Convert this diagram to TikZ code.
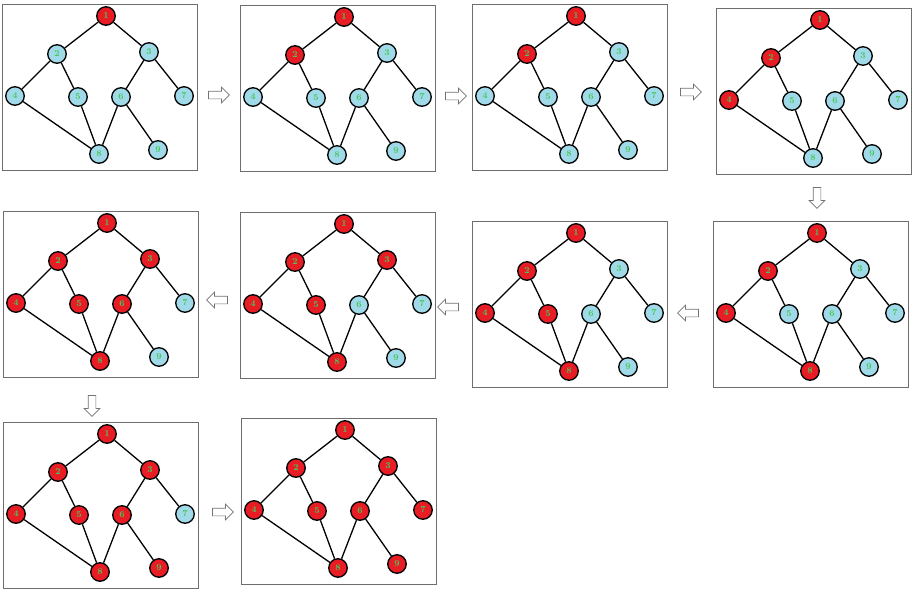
\documentclass[tikz,border=0pt]{standalone}
\usepackage{tikz}
\usetikzlibrary{shapes.arrows}
\definecolor{visited}{RGB}{232,28,36}
\definecolor{unvisited}{RGB}{160,218,232}
\definecolor{digit}{RGB}{70,200,90}
\definecolor{framegray}{RGB}{110,110,110}

\begin{document}
\begin{tikzpicture}[
    x=1pt, y=-1pt,                       % pixel grid, y downwards
    vertex/.style={
        circle,
        draw=black,
        line width=1.3pt,
        minimum size=18.5pt,
        inner sep=0pt,
        font=\fontsize{9}{9}\selectfont\bfseries,
        text=digit
    },
    seen/.style={vertex, fill=visited},
    unseen/.style={vertex, fill=unvisited},
    edge/.style={line width=1.3pt},
    panel/.style={
        draw=framegray,
        line width=1pt,
        minimum width=195pt,
        minimum height=166pt,
        inner sep=0pt,
        anchor=north west
    },
    nextarrow/.style={
        single arrow,
        draw=gray!90!black,
        fill=white,
        line width=0.7pt,
        minimum height=21pt,
        inner sep=3.5pt,                 % half the shaft
        single arrow head extend=4pt
    }
]
\useasboundingbox (0,0) rectangle (916,592);

% one panel per step: top left corner / number of visited vertices
\foreach \px/\py/\done [count=\k] in {
    2/4/1, 240/5/2, 472/4/2, 716/8/3, 713/221/4,
    472/221/5, 240/212/6, 3/211/7, 3/422/8, 241/418/9
}{
    \node[panel] (f\k) at (\px,\py) {};
    \begin{scope}[shift={(\px,\py)}]
        % vertex / position / place in the visiting order
        \foreach \v/\vx/\vy/\order in {1/104/12/1, 2/55/50/2, 3/147/48/6,
                4/13/92/3, 5/76/93/5, 6/119/93/7, 7/182/92/9,
                8/97/150/4, 9/156/146/8}{
            \ifnum\order>\done \def\kind{unseen}\else \def\kind{seen}\fi
            \node[\kind] (p\k-\v) at (\vx,\vy) {\v};
        }
        \foreach \a/\b in {1/2, 1/3, 2/4, 2/5, 3/6, 3/7, 4/8, 5/8, 6/8, 6/9}
            \draw[edge] (p\k-\a) -- (p\k-\b);
    \end{scope}
}

% arrows between the steps
\node[nextarrow] (a1) at (217,95) {};
\node[nextarrow] (a2) at (454,96) {};
\node[nextarrow] (a3) at (689,92) {};
\node[nextarrow, shape border rotate=270] (a4) at (817,196) {};
\node[nextarrow, shape border rotate=180] (a5) at (690,313) {};
\node[nextarrow, shape border rotate=180] (a6) at (450,307) {};
\node[nextarrow, shape border rotate=180] (a7) at (219,300) {};
\node[nextarrow, shape border rotate=270] (a8) at (92,404) {};
\node[nextarrow] (a9) at (221,512) {};

\end{tikzpicture}
\end{document}
